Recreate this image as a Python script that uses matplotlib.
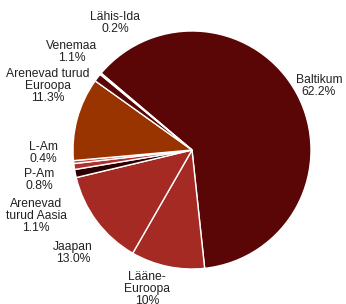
import matplotlib
matplotlib.use("Agg")
import matplotlib.pyplot as plt

names = ["Baltikum", "Lääne-\nEuroopa", "Jaapan", "Arenevad\nturud Aasia",
         "P-Am", "L-Am", "Arenevad turud\nEuroopa", "Venemaa", "Lähis-Ida"]
shares = [62.2, 10.0, 13.0, 1.1, 0.8, 0.4, 11.3, 1.1, 0.2]
pct_text = ["62.2%", "10%", "13.0%", "1.1%", "0.8%", "0.4%", "11.3%", "1.1%", "0.2%"]

COLORS = ["#5a0606", "#a52a24", "#a52a24", "#2c0000",
          "#b03030", "#c04a40", "#993300", "#5a0606", "#d8a0a0"]

# label centres in pixel coords of the 346x304 canvas
LABEL_PX = [(319, 86), (147, 289), (73, 253), (36, 216),
            (39, 180), (43, 153), (48, 86), (72, 52), (115, 23)]

CX, CY, R = 192, 150, 119
W, H = 346, 304

def px(x, y):
    return (x - CX) / R, (CY - y) / R

plt.rcParams["font.family"] = ["Liberation Sans", "DejaVu Sans"]

fig = plt.figure(figsize=(W / 100, H / 100), dpi=100)
ax = fig.add_axes([0, 0, 1, 1])
ax.pie(shares, colors=COLORS, startangle=139.8, counterclock=False,
       radius=1.0, center=(0, 0),
       wedgeprops=dict(edgecolor="white", linewidth=1.0))
ax.set_xlim(-CX / R, (W - CX) / R)
ax.set_ylim(-(H - CY) / R, CY / R)
ax.set_aspect("equal", adjustable="box")
ax.axis("off")

for name, pct, (lx, ly) in zip(names, pct_text, LABEL_PX):
    x, y = px(lx, ly)
    ax.text(x, y, name + "\n" + pct, ha="center", va="center",
            fontsize=8.7, color="#222222", linespacing=1.05)

fig.savefig("out.png", dpi=100)
